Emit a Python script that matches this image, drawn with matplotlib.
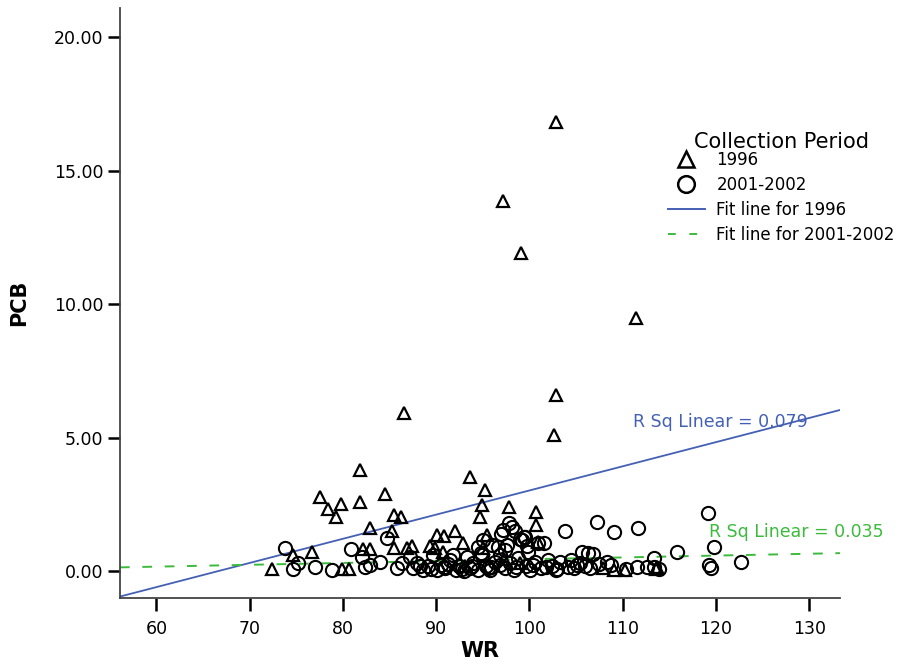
import matplotlib
matplotlib.use("Agg")
import matplotlib.pyplot as plt
from matplotlib.lines import Line2D
import numpy as np

plt.rcParams['font.family'] = ['DejaVu Sans']

# 1996 samples (WR, PCB)
wr_1996 = [102.8, 97.2, 99.1, 111.4, 102.9, 102.6, 86.6, 81.8, 81.8, 77.6,
           78.4, 79.8, 79.3, 84.5, 85.5, 86.2, 82.9, 85.3, 90.1, 90.8,
           92.0, 82.2, 82.9, 85.5, 86.9, 87.4, 89.3, 89.9, 90.7, 93.6,
           95.2, 94.9, 94.7, 97.8, 100.7, 100.7, 92.9, 95.5, 100.9, 74.7,
           76.7, 72.4, 79.9, 80.7, 107.9, 109.1, 110.2, 113.7, 113.6, 95.0,
           97.3, 99.0, 93.1]
pcb_1996 = [16.82, 13.89, 11.94, 9.50, 6.61, 5.11, 5.93, 3.79, 2.59, 2.78,
            2.33, 2.52, 2.03, 2.89, 2.10, 2.03, 1.61, 1.50, 1.35, 1.31,
            1.50, 0.83, 0.83, 0.86, 0.86, 0.94, 0.94, 0.86, 0.71, 3.53,
            3.04, 2.48, 2.03, 2.40, 2.21, 1.73, 1.05, 1.35, 1.09, 0.60,
            0.71, 0.08, 0.08, 0.08, 0.11, 0.04, 0.04, 0.15, 0.08, 0.86,
            0.45, 0.30, 0.20]

# 2001-2002 samples (WR, PCB)
wr_2001 = [73.8, 74.6, 75.2, 77.0, 78.8, 80.9, 82.1, 82.4, 82.9, 84.0,
           84.7, 85.8, 86.3, 87.2, 87.5, 88.0, 88.6, 89.1, 89.7, 90.1,
           90.5, 91.0, 91.5, 91.8, 92.1, 92.5, 93.0, 93.3, 93.6, 94.0,
           94.5, 94.9, 95.0, 95.3, 95.8, 96.0, 96.3, 96.8, 97.2, 97.4,
           97.6, 97.8, 97.9, 98.3, 98.8, 99.2, 99.5, 99.6, 99.8, 100.1,
           100.6, 100.9, 101.2, 101.6, 102.0, 102.4, 102.8, 103.3, 103.8, 104.1,
           104.5, 105.1, 105.6, 106.3, 106.8, 106.5, 107.2, 108.3, 109.1, 111.5,
           111.6, 112.6, 113.4, 113.4, 115.8, 119.1, 119.8, 119.3, 119.5, 122.7,
           98.1, 98.5, 97.0, 96.6, 99.0, 99.4, 99.7, 97.4, 94.5, 94.8,
           89.4, 90.8, 92.8, 93.8, 95.6, 96.9, 98.6, 100.4, 101.8, 103.0,
           104.8, 105.4, 106.0, 107.5, 108.8, 110.4, 113.9, 88.3, 91.3, 95.9]
pcb_2001 = [0.86, 0.08, 0.30, 0.15, 0.04, 0.83, 0.53, 0.15, 0.23, 0.34,
            1.24, 0.11, 0.30, 0.53, 0.11, 0.30, 0.04, 0.19, 0.60, 0.04,
            0.23, 0.11, 0.41, 0.60, 0.04, 0.19, 0.00, 0.53, 0.11, 0.30,
            0.04, 0.60, 1.16, 0.19, 0.04, 0.98, 0.34, 0.60, 1.54, 0.11,
            0.98, 1.80, 0.30, 0.04, 0.49, 1.16, 1.28, 0.19, 0.71, 0.04,
            0.34, 1.05, 0.11, 1.05, 0.41, 0.19, 0.04, 0.34, 1.50, 0.15,
            0.41, 0.23, 0.71, 0.68, 0.64, 0.11, 1.84, 0.34, 1.46, 0.15,
            1.61, 0.15, 0.49, 0.15, 0.71, 2.18, 0.90, 0.23, 0.11, 0.34,
            1.65, 1.50, 1.40, 0.90, 1.20, 1.28, 0.95, 0.80, 0.90, 0.70,
            0.08, 0.15, 0.10, 0.20, 0.12, 0.25, 0.15, 0.22, 0.15, 0.08,
            0.12, 0.30, 0.20, 0.28, 0.22, 0.10, 0.10, 0.20, 0.28, 0.15]

# linear fits (slope, intercept) and their R squared
fit_1996 = (0.0905, -6.02)
fit_2001 = (0.0069, -0.237)
rsq_1996 = 0.079
rsq_2001 = 0.035

blue = '#4460b4'
green = '#3cba3c'

fig = plt.figure(figsize=(9, 6.66), dpi=100)
ax = fig.add_axes([0.1333, 0.102, 0.8, 0.886])

xlo, xhi = 56.1, 133.3
ax.set_xlim(xlo, xhi)
ax.set_ylim(-1.0, 21.1)

xs = np.array([xlo, xhi])
ax.plot(xs, fit_1996[0] * xs + fit_1996[1], color=blue, lw=1.3, zorder=2)
ax.plot(xs, fit_2001[0] * xs + fit_2001[1], color=green, lw=1.4,
        dashes=(5, 6.5), zorder=2)

ax.plot(wr_2001, pcb_2001, linestyle='none', marker='o', markersize=9.5,
        markerfacecolor='none', markeredgecolor='black', markeredgewidth=1.5,
        zorder=3)
ax.plot(wr_1996, pcb_1996, linestyle='none', marker='^', markersize=9,
        markerfacecolor='none', markeredgecolor='black', markeredgewidth=1.6,
        zorder=3)

ax.text(111.1, 5.59, 'R Sq Linear = %.3f' % rsq_1996, color=blue,
        fontsize=12.5, va='center', ha='left')
ax.text(119.3, 1.46, 'R Sq Linear = %.3f' % rsq_2001, color=green,
        fontsize=12.5, va='center', ha='left')

ax.spines['top'].set_visible(False)
ax.spines['right'].set_visible(False)
for s in ('left', 'bottom'):
    ax.spines[s].set_color('#444444')
    ax.spines[s].set_linewidth(1.3)

ax.set_xticks([60, 70, 80, 90, 100, 110, 120, 130])
ax.set_yticks([0, 5, 10, 15, 20])
ax.set_yticklabels(['%.2f' % v for v in [0, 5, 10, 15, 20]])
ax.tick_params(axis='both', direction='out', length=9, width=1.8,
               color='black', labelsize=12.5, pad=3)
ax.tick_params(axis='x', pad=7)

ax.set_xlabel('WR', fontsize=15, fontweight='bold', labelpad=2)
ax.set_ylabel('PCB', fontsize=15, fontweight='bold', labelpad=18)

# legend title drawn separately so it sits close to the entries
ax.text(0.919, 0.773, 'Collection Period', transform=ax.transAxes,
        fontsize=15, ha='center', va='center')

handles = [
    Line2D([], [], linestyle='none', marker='^', markersize=11,
           markerfacecolor='none', markeredgecolor='black', markeredgewidth=1.8),
    Line2D([], [], linestyle='none', marker='o', markersize=12,
           markerfacecolor='none', markeredgecolor='black', markeredgewidth=1.8),
    Line2D([], [], color=blue, lw=1.4),
    Line2D([], [], color=green, lw=1.4, dashes=(4, 7)),
]
labels = ['1996', '2001-2002', 'Fit line for 1996', 'Fit line for 2001-2002']
leg = ax.legend(handles, labels, frameon=False,
                loc='upper left', bbox_to_anchor=(0.745, 0.777), fontsize=12,
                handlelength=2.2, labelspacing=0.42,
                handletextpad=0.7, borderpad=0.2)

fig.savefig('out.png', dpi=100)
